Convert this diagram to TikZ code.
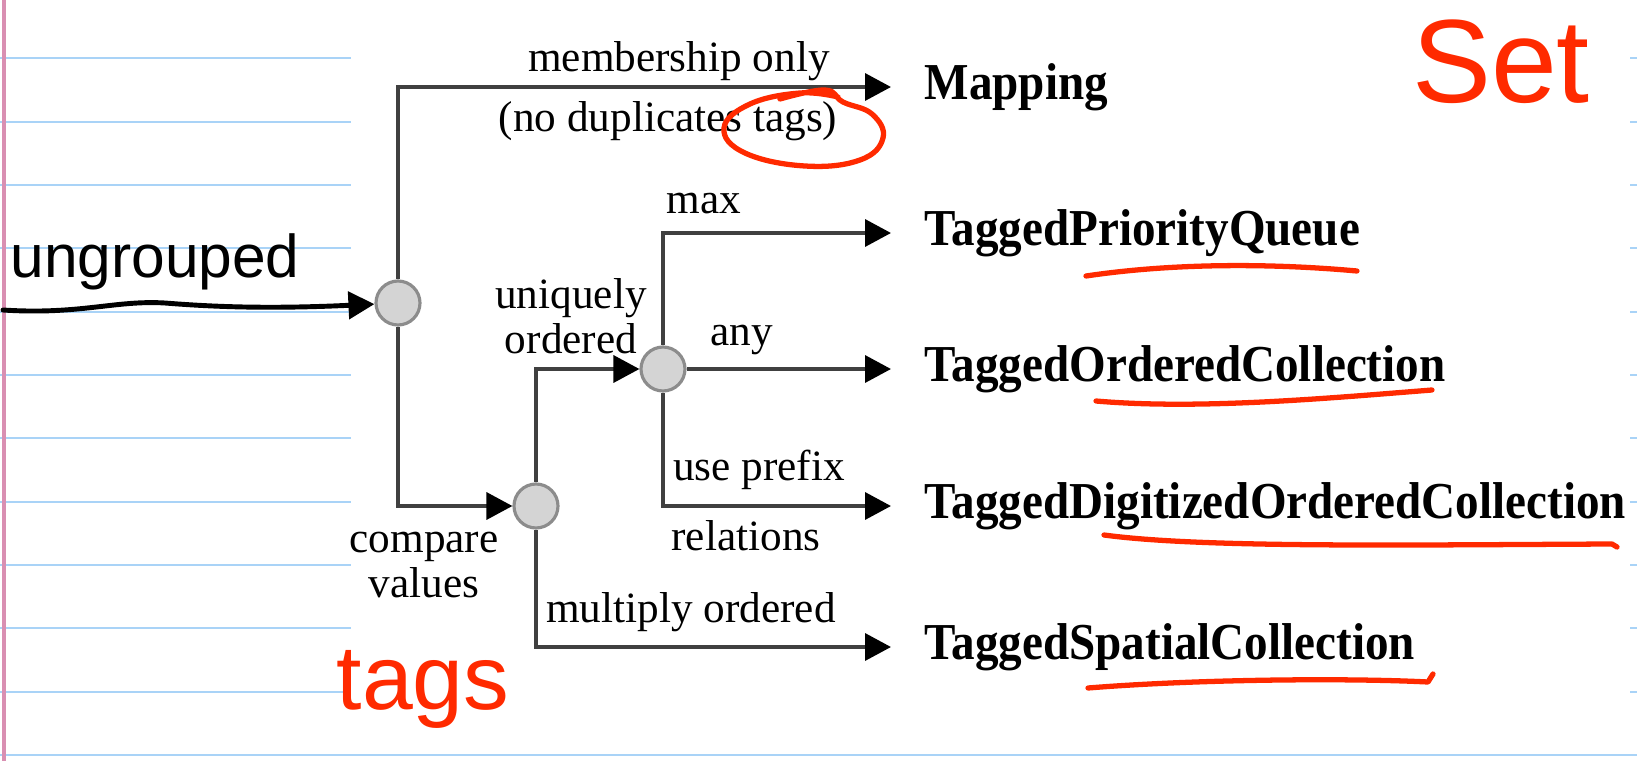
\documentclass[tikz,border=0pt]{standalone}
\usepackage{fontspec}
\setmainfont{Liberation Serif}
\newfontfamily\handfont{Liberation Sans}
\usepackage{xcolor}
\usepackage{tikz}
\usetikzlibrary{positioning,arrows.meta}
\definecolor{ruleblue}{HTML}{A9D3F7}
\definecolor{marginpink}{HTML}{D98FB2}
\definecolor{penred}{HTML}{FF2A00}
\newcommand{\tallname}[1]{\scalebox{1}[1.1]{#1}}
\tikzset{
  junction/.style={circle, draw=black!45, fill=black!17, line width=0.9pt,
    minimum size=4.4mm, inner sep=0pt},
  target/.style={anchor=west, inner xsep=3.3mm, inner ysep=0pt, text height=0.73em,
    text depth=0pt, font=\fontsize{13.4}{16}\selectfont\bfseries},
  arrow/.style={-{Triangle[length=2.6mm, width=2.7mm, color=black]}, line width=1pt, draw=black!75}
}

\begin{document}
\begin{tikzpicture}[
            x=0.1mm, y=-0.1mm,
            lbl/.style={align=center, inner sep=0pt, font=\fontsize{12.3}{12.8}\selectfont},
            hand/.style={inner sep=0pt, font=\handfont\fontsize{#1}{#1}\selectfont},
            redpen/.style={draw=penred, line width=1.5pt, line cap=round, line join=round},
            inarrow/.style={-{Triangle[length=2.6mm, width=2.7mm]}, line width=1.4pt, line cap=round},
            ruled/.style={draw=ruleblue, line width=0.55pt}
            ]
            \useasboundingbox (0,0) rectangle (1637,761);

            % notebook paper
            \foreach \k in {0,...,10} {
              \draw[ruled] (0,58.3+63.33*\k) -- (351,58.3+63.33*\k);
              \draw[ruled] (1630,58.3+63.33*\k) -- (1637,58.3+63.33*\k);
            }
            \draw[ruled] (0,755) -- (1637,755);
            \draw[draw=marginpink, line width=0.9pt] (4,0) -- (4,761);

            \node (j1) [junction] at (398,303) {};
            \node (j2) [junction] at (536,506) {};
            \node (j3) [junction] at (663,369) {};

            \node (tmap) [target] at (891,87) {\tallname{Mapping}};
            \node (tpq) [target] at (891,233) {\tallname{TaggedPriorityQueue}};
            \node (toc) [target] at (891,369) {\tallname{TaggedOrderedCollection}};
            \node (tdoc) [target] at (891,506) {\tallname{TaggedDigitizedOrderedCollection}};
            \node (tsc) [target] at (891,647) {\tallname{TaggedSpatialCollection}};

            \draw[arrow] (j1) |- (tmap);
            \draw[arrow] (j1) |- (j2);
            \draw[arrow] (j2) |- (j3);
            \draw[arrow] (j2) |- (tsc);
            \draw[arrow] (j3) |- (tpq);
            \draw[arrow] (j3) -- (toc);
            \draw[arrow] (j3) |- (tdoc);

            % edge labels
            \node (lmember) [lbl] at (679,61) {membership only};
            \node (ldup) [lbl] at (668,121) {(no duplicates tags)};
            \node (lmax) [lbl] at (704,204) {max};
            \node (luniq) [lbl] at (571,316) {uniquely\\ordered};
            \node (lany) [lbl] at (742,340) {any};
            \node (lprefix) [lbl] at (759,470) {use prefix};
            \node (lrel) [lbl] at (746,536) {relations};
            \node (lcomp) [lbl] at (424,565) {compare\\values};
            \node (lmulti) [lbl] at (691,612) {multiply ordered};

            % handwritten notes
            \coordinate (ustart) at (3,310);
            \draw[inarrow] (ustart) .. controls (80,315) and (115,300) .. (165,303)
              .. controls (215,307) and (270,309) .. (j1);
            \node (nungrp) [hand=17.2] at (155,262) {ungrouped};
            \node (nset) [hand=33.7, text=penred] at (1501,62) {Set};
            \node (ntags) [hand=26, text=penred] at (423,689) {tags};

            \draw[redpen] plot[smooth, tension=0.7] coordinates {(780,99) (825,90) (843,102)
              (872,114) (883,138) (860,160) (805,166) (745,153) (724,128) (750,104) (800,93) (838,97)};
            \draw[redpen] (1086,276) .. controls (1180,262) and (1280,264) .. (1357,271);
            \draw[redpen] (1096,401) .. controls (1200,410) and (1330,398) .. (1432,390);
            \draw[redpen] (1104,535) .. controls (1200,548) and (1400,545) .. (1612,544) -- (1617,547);
            \draw[redpen] (1088,688) .. controls (1200,679) and (1350,678) .. (1428,682) -- (1433,674);

      \end{tikzpicture}
\end{document}
